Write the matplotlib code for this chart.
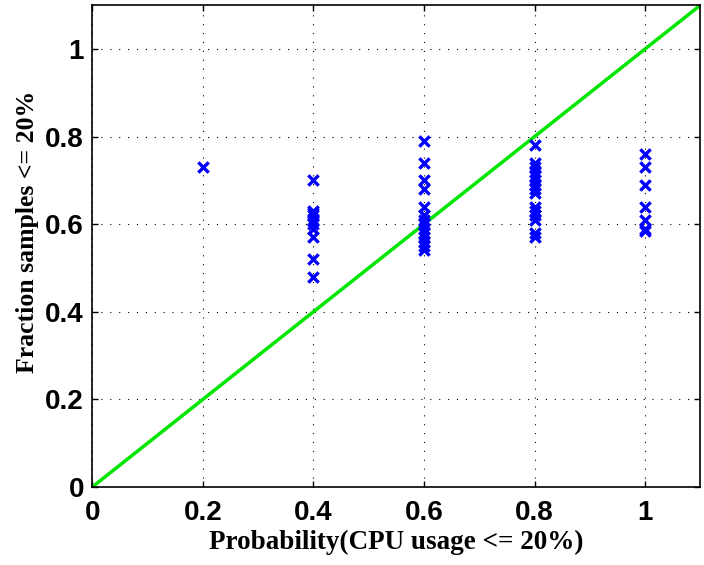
import numpy as np
import matplotlib.pyplot as plt

# probability buckets and observed fraction of samples
x_02 = [0.73]
x_04 = [0.70, 0.63, 0.625, 0.62, 0.61, 0.60, 0.59, 0.57, 0.52, 0.48]
x_06 = [0.79, 0.74, 0.70, 0.68, 0.64, 0.62, 0.61, 0.60, 0.59, 0.58, 0.57, 0.56, 0.55, 0.54]
x_08 = [0.78, 0.74, 0.73, 0.72, 0.71, 0.70, 0.69, 0.68, 0.67, 0.64, 0.63, 0.62, 0.61, 0.58, 0.57]
x_10 = [0.76, 0.73, 0.69, 0.64, 0.61, 0.59, 0.585]
groups = {0.2: x_02, 0.4: x_04, 0.6: x_06, 0.8: x_08, 1.0: x_10}

xs = []
ys = []
for p, vals in groups.items():
    xs += [p] * len(vals)
    ys += vals

fig = plt.figure(figsize=(7.04, 5.65), dpi=100)
ax = fig.add_axes([0.131, 0.138, 0.864, 0.853])

ax.plot([0, 1.1], [0, 1.1], color='#00e600', lw=2.5, zorder=2)
ax.scatter(xs, ys, marker='x', color='blue', s=55, linewidths=2.4, zorder=3)

ax.set_xlim(0, 1.1)
ax.set_ylim(0, 1.1)
ticks = [0, 0.2, 0.4, 0.6, 0.8, 1]
ax.set_xticks(ticks)
ax.set_yticks(ticks)
ax.set_xticklabels(['0', '0.2', '0.4', '0.6', '0.8', '1'])
ax.set_yticklabels(['0', '0.2', '0.4', '0.6', '0.8', '1'])
ax.grid(True, color='black', linestyle=(0, (1, 7)), linewidth=0.8)
ax.tick_params(direction='in', length=4, width=1, labelsize=20, top=True, right=True)
ax.tick_params(axis='x', pad=9)
ax.tick_params(axis='y', pad=6)
for lbl in ax.get_xticklabels() + ax.get_yticklabels():
    lbl.set_fontweight('bold')
    lbl.set_family('Liberation Sans')
for s in ax.spines.values():
    s.set_linewidth(1.2)

ax.set_xlabel('Probability(CPU usage <= 20%)', fontsize=19.5, fontweight='bold',
              family='Liberation Serif', labelpad=3)
ax.set_ylabel('Fraction samples <= 20%', fontsize=18.5, fontweight='bold',
              family='Liberation Serif')
ax.yaxis.set_label_coords(-0.088, 0.53)

fig.savefig('out.png', dpi=100)
